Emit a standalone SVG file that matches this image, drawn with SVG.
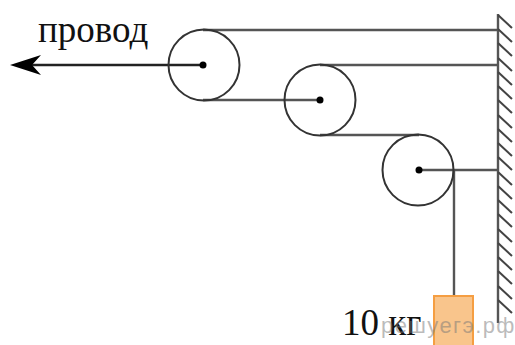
<svg xmlns="http://www.w3.org/2000/svg" width="515" height="345" viewBox="0 0 515 345">
<style>
.w{fill:none;stroke:#555;stroke-width:2.4}
.h{fill:none;stroke:#444;stroke-width:2}
.p{fill:none;stroke:#333;stroke-width:2}
.d{fill:#000}
.t{font-family:"Liberation Serif",serif;font-size:37px;fill:#111}
</style>
<rect width="515" height="345" fill="#fff"/>
<g id="connectors">
<path class="w" d="M203 30H498M320 65H498M203 100H320M320 135H419M419 170H498M454 170V296"/>
<path class="w" d="M498 14V323"/>
<path class="h" d="M498 15l14 13M498 29l14 13M498 43l14 13M498 58l14 13M498 72l14 13M498 86l14 13M498 100l14 13M498 115l14 13M498 129l14 13M498 143l14 13M498 157l14 13M498 172l14 13M498 186l14 13M498 200l14 13M498 214l14 13M498 229l14 13M498 243l14 13M498 257l14 13M498 271l14 13M498 286l14 13M498 300l14 13"/>
<path d="M203 65H20" fill="none" stroke="#222" stroke-width="2.4"/>
<path d="M10 65L41 55L32 65L41 75Z" fill="#000"/>
</g>
<g id="pulley1"><circle class="p" cx="204" cy="65" r="35.5"/><circle class="d" cx="203" cy="65" r="3.5"/></g>
<g id="pulley2"><circle class="p" cx="320" cy="100" r="35.5"/><circle class="d" cx="320" cy="100" r="3.5"/></g>
<g id="pulley3"><circle class="p" cx="418" cy="170" r="35.5"/><circle class="d" cx="419" cy="170" r="3.5"/></g>
<g id="load"><rect x="434" y="296" width="39" height="52" fill="#f9c58c" stroke="#f59e42" stroke-width="2"/></g>
<text class="t" x="38" y="42">провод</text>
<text class="t" x="342" y="335">10 кг</text>
<text x="381" y="333" font-family="'Liberation Sans',sans-serif" font-size="22" letter-spacing="1.4" fill="#777" fill-opacity=".5">решуегэ.рф</text>
</svg>
